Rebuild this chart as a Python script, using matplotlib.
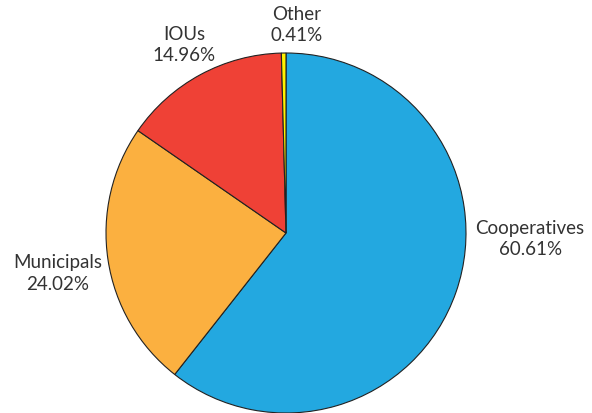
import matplotlib
matplotlib.use("Agg")
import matplotlib.pyplot as plt

labels = ["Cooperatives", "Municipals", "IOUs", "Other"]
shares = [60.61, 24.02, 14.96, 0.41]
colors = ["#23a8e0", "#fbb040", "#ef4136", "#fff200"]

# where each label sits (data units, pie radius = 1)
label_pos = [(1.356, -0.03), (-1.27, -0.22), (-0.567, 1.05), (0.061, 1.16)]

plt.rcParams['font.family'] = ['Lato', 'DejaVu Sans']

fig = plt.figure(figsize=(5.92, 4.14), dpi=100)
ax = fig.add_axes([0, 0, 1, 1])
wedges, _ = ax.pie(shares, colors=colors, startangle=90, counterclock=False,
                   wedgeprops=dict(edgecolor="#222222", linewidth=0.8))

for name, val, (x, y) in zip(labels, shares, label_pos):
    ax.text(x, y, f"{name}\n{val:.2f}%", ha="center", va="center",
            fontsize=13.5, color="#333333", linespacing=1.3)

ax.set_xlim(-286 / 180, 306 / 180)
ax.set_ylim(-1.0, 234 / 180)
ax.set_aspect("equal")
ax.axis("off")

fig.savefig("out.png", dpi=100)
